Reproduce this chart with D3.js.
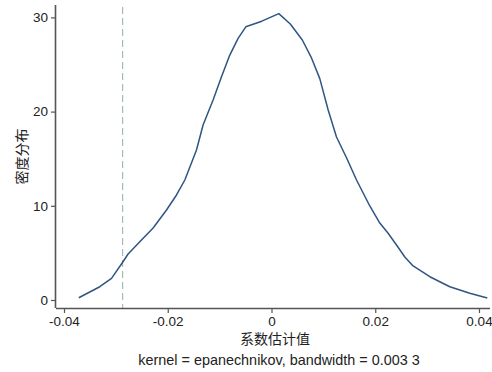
<!DOCTYPE html>
<html>
<head>
<meta charset="utf-8">
<script src="https://cdn.jsdelivr.net/npm/d3@7"></script>
<style>
  html, body { margin: 0; padding: 0; background: #fff; }
  svg { display: block; }
  .tick text { font-family: "Liberation Sans", Arial, Helvetica, sans-serif; font-size: 13.5px; fill: #222; }
</style>
</head>
<body>
<svg id="chart" width="492" height="372"></svg>
<script>
// Kernel density estimate of the coefficient estimates
const coefValues = [-0.03715, -0.0331, -0.03084, -0.02892, -0.02764, -0.02539, -0.02282, -0.02024,
  -0.01831, -0.01671, -0.01446, -0.01319, -0.01126, -0.00964, -0.00804, -0.00644, -0.00495,
  -0.00187, 0.00141, 0.00362, 0.00594, 0.00771, 0.00931, 0.01091, 0.01253, 0.01446, 0.01639,
  0.01895, 0.02088, 0.02248, 0.0241, 0.0257, 0.0273, 0.03052, 0.03437, 0.03823, 0.0416];
const densityValues = [0.24, 1.41, 2.30, 3.82, 4.88, 6.19, 7.64, 9.55, 11.15, 12.74, 15.92, 18.58,
  21.23, 23.70, 26.0, 27.78, 29.0, 29.6, 30.4, 29.3, 27.6, 25.7, 23.5, 20.2, 17.3, 15.1, 12.74,
  9.98, 8.17, 7.08, 5.84, 4.56, 3.61, 2.47, 1.41, 0.71, 0.21];
const xTicks = [-0.04, -0.02, 0, 0.02, 0.04];
const xTickLabels = ["-0.04", "-0.02", "0", "0.02", "0.04"];
const yTicks = [0, 10, 20, 30];
const referenceLine = -0.0287;
const xTitle = "系数估计值";
const yTitle = "密度分布";
const note = "kernel = epanechnikov, bandwidth = 0.003 3";

const svg = d3.select("#chart");
const plot = { left: 56, right: 490, top: 5, bottom: 308 };

const x = d3.scaleLinear().domain([-0.04, 0.04]).range([64, 479]);
const y = d3.scaleLinear().domain([0, 30]).range([300, 17.4]);

// reference line
svg.append("line")
  .attr("x1", x(referenceLine)).attr("x2", x(referenceLine))
  .attr("y1", plot.top + 2).attr("y2", plot.bottom)
  .attr("stroke", "#9bb8b2").attr("stroke-width", 1.1)
  .attr("stroke-dasharray", "7,4");

// density curve, straight segments between evaluation points
const pts = coefValues.map((v, i) => [v, densityValues[i]]);
svg.append("path")
  .datum(pts)
  .attr("fill", "none")
  .attr("stroke", "#2f5582")
  .attr("stroke-width", 1.5)
  .attr("stroke-linejoin", "round")
  .attr("d", d3.line().x(d => x(d[0])).y(d => y(d[1])));

// axes
const xAxis = svg.append("g")
  .attr("transform", `translate(0,${plot.bottom})`)
  .call(d3.axisBottom(x).tickValues(xTicks).tickFormat((d, i) => xTickLabels[i]).tickSize(5).tickSizeOuter(0).tickPadding(3));
xAxis.select(".domain").attr("d", `M${plot.left},0.5H${plot.right}`);

const yAxis = svg.append("g")
  .attr("transform", `translate(${plot.left},0)`)
  .call(d3.axisLeft(y).tickValues(yTicks).tickSize(5).tickSizeOuter(0).tickPadding(3));
yAxis.select(".domain").attr("d", `M-0.5,${plot.top}V${plot.bottom}`);

svg.selectAll(".domain").attr("stroke", "#555").attr("stroke-width", 1.6);
svg.selectAll(".tick line").attr("stroke", "#555").attr("stroke-width", 1.2);

// titles
svg.append("text")
  .attr("x", 275).attr("y", 344)
  .attr("text-anchor", "middle")
  .attr("font-family", "'Noto Sans CJK SC', sans-serif")
  .attr("font-size", 14).attr("fill", "#222")
  .text(xTitle);

svg.append("text")
  .attr("transform", `translate(27,${(plot.top + plot.bottom) / 2}) rotate(-90)`)
  .attr("text-anchor", "middle")
  .attr("font-family", "'Noto Sans CJK SC', sans-serif")
  .attr("font-size", 14).attr("fill", "#222")
  .text(yTitle);

svg.append("text")
  .attr("x", 279).attr("y", 365)
  .attr("text-anchor", "middle")
  .attr("font-family", "'Liberation Sans', Arial, sans-serif")
  .attr("font-size", 14.4).attr("fill", "#222")
  .text(note);
</script>
</body>
</html>
